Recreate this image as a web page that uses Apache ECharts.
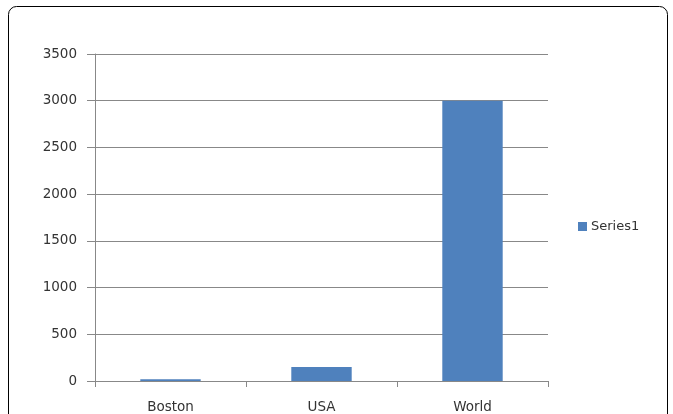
<!DOCTYPE html>
<html lang="en">
  <head>
    <meta charset="UTF-8" />
    <title>Series1 bar chart</title>
    <script src="https://cdn.jsdelivr.net/npm/echarts@6/dist/echarts.min.js"></script>
    <style>
      html, body { margin: 0; padding: 0; background: #fff; }
      #main { width: 673px; height: 414px; }
    </style>
  </head>
  <body>
    <div id="main"></div>
    <script>
      const categories = ['Boston', 'USA', 'World'];
      const series1 = [20, 150, 3000];
      const yTicks = [0, 500, 1000, 1500, 2000, 2500, 3000, 3500];

      const textColor = '#333333';
      const lineColor = '#888888';
      const font = 'DejaVu Sans';

      var myChart = echarts.init(document.getElementById('main'));

      myChart.setOption({
        animation: false,
        textStyle: { fontFamily: font },
        graphic: [
          {
            type: 'rect',
            shape: { x: 8.5, y: 6.5, width: 659, height: 430, r: 8 },
            style: { fill: 'none', stroke: '#000', lineWidth: 1 }
          }
        ],
        legend: {
          data: ['Series1'],
          left: 573,
          top: 215,
          icon: 'rect',
          itemWidth: 9,
          itemHeight: 9,
          itemGap: 4,
          textStyle: { color: textColor, fontSize: 13, fontFamily: font, padding: [0, 0, 0, -1] }
        },
        grid: { left: 95, right: 125, top: 54, bottom: 33 },
        xAxis: {
          type: 'category',
          data: categories,
          axisLine: { lineStyle: { color: lineColor } },
          axisTick: { show: true, length: 6, lineStyle: { color: lineColor } },
          axisLabel: { color: textColor, fontSize: 13.5, margin: 19 }
        },
        yAxis: {
          type: 'value',
          min: yTicks[0],
          max: yTicks[yTicks.length - 1],
          interval: 500,
          axisLine: { show: true, lineStyle: { color: lineColor } },
          axisTick: { show: true, length: 8, lineStyle: { color: lineColor } },
          splitLine: { lineStyle: { color: lineColor } },
          axisLabel: {
            color: textColor,
            fontSize: 13.5,
            margin: 18,
            formatter: (v) => String(v)
          }
        },
        series: [
          {
            name: 'Series1',
            type: 'bar',
            data: series1,
            barWidth: '40%',
            itemStyle: { color: '#4F81BD' }
          }
        ]
      });
    </script>
  </body>
</html>
